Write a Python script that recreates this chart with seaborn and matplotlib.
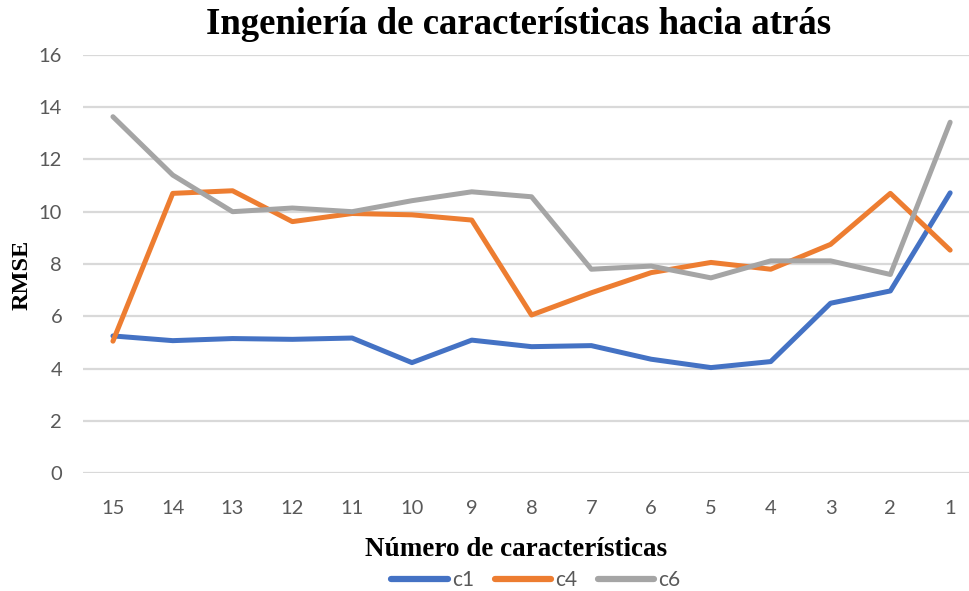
import matplotlib
matplotlib.use("Agg")
import matplotlib.pyplot as plt
import seaborn as sns
import pandas as pd

# Number of features remaining at each backward-elimination step
features = ["15", "14", "13", "12", "11", "10", "9", "8", "7", "6", "5", "4", "3", "2", "1"]

c1 = [5.25, 5.07, 5.15, 5.12, 5.17, 4.23, 5.09, 4.84, 4.88, 4.36, 4.04, 4.27, 6.50, 6.97, 10.72]
c4 = [5.05, 10.70, 10.80, 9.62, 9.93, 9.88, 9.68, 6.05, 6.90, 7.67, 8.06, 7.80, 8.75, 10.70, 8.53]
c6 = [13.63, 11.40, 10.00, 10.14, 10.00, 10.42, 10.76, 10.57, 7.80, 7.92, 7.47, 8.12, 8.12, 7.60, 13.42]

series_names = ["c1", "c4", "c6"]
palette = ["#4472C4", "#ED7D31", "#A5A5A5"]
y_ticks = [0, 2, 4, 6, 8, 10, 12, 14, 16]

df = pd.concat(
    [pd.DataFrame({"n": features, "rmse": vals, "serie": name})
     for name, vals in zip(series_names, [c1, c4, c6])],
    ignore_index=True,
)

sns.set_theme(style="white")
plt.rcParams["font.family"] = ["Lato", "DejaVu Sans"]

fig = plt.figure(figsize=(9.69, 5.91), dpi=100)
ax = fig.add_axes([0.0857, 0.1992, 0.9257, 0.7082])

sns.lineplot(data=df, x="n", y="rmse", hue="serie", hue_order=series_names,
             palette=palette, linewidth=3.6, sort=False, ax=ax,
             solid_capstyle="round", solid_joinstyle="round")

ax.set_xlim(-0.5, len(features) - 0.5)
ax.set_ylim(0, 16)
ax.set_yticks(y_ticks)
ax.set_yticklabels([str(t) for t in y_ticks])
ax.grid(axis="y", color="#D9D9D9", linewidth=1.6)
ax.grid(axis="x", visible=False)
ax.set_axisbelow(True)
for s in ax.spines.values():
    s.set_visible(False)
ax.tick_params(axis="both", length=0, labelsize=14.5, colors="#595959")
ax.tick_params(axis="x", pad=19)
ax.tick_params(axis="y", pad=15)

serif = ["Liberation Serif", "DejaVu Serif"]
ax.set_title("Ingeniería de características hacia atrás", family=serif,
             fontweight="bold", fontsize=26.5, color="black", pad=15, x=0.486)
ax.set_xlabel("Número de características", family=serif, fontweight="bold",
              fontsize=19.5, color="black")
ax.xaxis.set_label_coords(0.483, -0.152)
ax.set_ylabel("RMSE", family=serif, fontweight="bold", fontsize=17.5,
              color="black")
ax.yaxis.set_label_coords(-0.056, 0.475)

leg = ax.legend(loc="center", bbox_to_anchor=(0.505, -0.255), ncol=3,
                frameon=False, fontsize=15, handlelength=2.7,
                columnspacing=1.0, handletextpad=0.2,
                borderaxespad=0, borderpad=0)
for line in leg.get_lines():
    line.set_linewidth(4.5)
    line.set_solid_capstyle("round")
for txt in leg.get_texts():
    txt.set_color("#595959")

fig.savefig("out.png", dpi=100)
